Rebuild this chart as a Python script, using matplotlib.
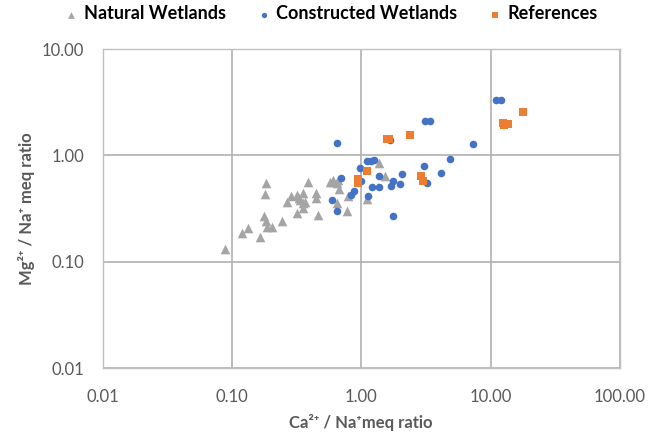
import matplotlib
matplotlib.use("Agg")
import matplotlib.pyplot as plt
from matplotlib.ticker import FixedLocator, FixedFormatter

plt.rcParams['font.family'] = ['Lato', 'DejaVu Sans']

# Ca/Na and Mg/Na meq ratios
natural_ca = [0.089, 0.119, 0.134, 0.165, 0.185, 0.181, 0.177, 0.182, 0.186, 0.206,
              0.243, 0.268, 0.287, 0.317, 0.336, 0.356, 0.356, 0.356, 0.317, 0.389,
              0.447, 0.447, 0.466, 0.573, 0.608, 0.653, 0.668, 0.646, 0.780, 0.795,
              1.10, 1.37, 1.52, 0.33, 0.367, 0.66, 0.61]
natural_mg = [0.132, 0.186, 0.209, 0.173, 0.548, 0.432, 0.270, 0.244, 0.214, 0.214,
              0.241, 0.364, 0.419, 0.426, 0.382, 0.442, 0.356, 0.319, 0.290, 0.568,
              0.442, 0.397, 0.275, 0.564, 0.568, 0.548, 0.482, 0.360, 0.303, 0.417,
              0.388, 0.841, 0.642, 0.40, 0.368, 0.59, 0.59]

constructed_ca = [0.646, 0.694, 0.597, 0.646, 0.826, 0.873, 0.982, 1.10, 1.18, 1.26,
                  0.995, 1.13, 1.21, 1.38, 1.38, 1.75, 1.71, 2.07, 2.00, 1.77,
                  3.05, 3.24, 4.14, 4.89, 3.13, 3.37, 1.68, 7.26, 11.0, 12.0]
constructed_mg = [1.30, 0.621, 0.382, 0.301, 0.429, 0.461, 0.768, 0.888, 0.888, 0.904,
                  0.578, 0.420, 0.504, 0.504, 0.638, 0.580, 0.512, 0.667, 0.540, 0.270,
                  0.800, 0.552, 0.682, 0.923, 2.12, 2.12, 1.40, 1.28, 3.32, 3.32]

reference_ca = [1.59, 1.65, 2.39, 1.11, 0.948, 0.938, 2.88, 3.01, 12.4, 13.7, 12.7, 17.7]
reference_mg = [1.44, 1.43, 1.57, 0.713, 0.602, 0.548, 0.645, 0.578, 2.02, 1.97, 1.92, 2.54]

xticks = [0.01, 0.1, 1, 10, 100]
xtick_labels = ['0.01', '0.10', '1.00', '10.00', '100.00']
yticks = [0.01, 0.1, 1, 10]
ytick_labels = ['0.01', '0.10', '1.00', '10.00']

fig = plt.figure(figsize=(6.67, 4.38), dpi=100)
ax = fig.add_axes([0.1537, 0.159, 0.7758, 0.729])

ax.scatter(natural_ca, natural_mg, marker='^', s=48, color='#A5A5A5',
           linewidths=0, label='Natural Wetlands', zorder=3)
ax.scatter(constructed_ca, constructed_mg, marker='o', s=30, color='#4472C4',
           linewidths=0, label='Constructed Wetlands', zorder=4)
ax.scatter(reference_ca, reference_mg, marker='s', s=40, color='#ED7D31',
           linewidths=0, label='References', zorder=5)

ax.set_xscale('log')
ax.set_yscale('log')
ax.set_xlim(0.01, 100)
ax.set_ylim(0.01, 10)
ax.xaxis.set_major_locator(FixedLocator(xticks))
ax.xaxis.set_major_formatter(FixedFormatter(xtick_labels))
ax.yaxis.set_major_locator(FixedLocator(yticks))
ax.yaxis.set_major_formatter(FixedFormatter(ytick_labels))
ax.xaxis.set_minor_locator(FixedLocator([]))
ax.yaxis.set_minor_locator(FixedLocator([]))

ax.grid(True, color='#B0B0B0', linewidth=1.2)
ax.set_axisbelow(True)
for sp in ax.spines.values():
    sp.set_color('#C0C0C0')
    sp.set_linewidth(1.0)
ax.tick_params(length=0, labelsize=12, labelcolor='#595959')
ax.tick_params(axis='x', pad=15)
ax.tick_params(axis='y', pad=13)

ax.set_xlabel('Ca²⁺ / Na⁺meq ratio', fontsize=12, fontweight='bold',
              color='#595959', labelpad=6)
ax.set_ylabel('Mg²⁺ / Na⁺ meq ratio', fontsize=12, fontweight='bold',
              color='#595959', labelpad=5)

fig.legend(loc='upper center', bbox_to_anchor=(0.495, 1.025), ncol=3, frameon=False,
           prop={'weight': 'bold', 'size': 13}, handletextpad=0.2,
           columnspacing=1.6, markerscale=0.7, handlelength=1.0)

fig.savefig('out.png', dpi=100)
